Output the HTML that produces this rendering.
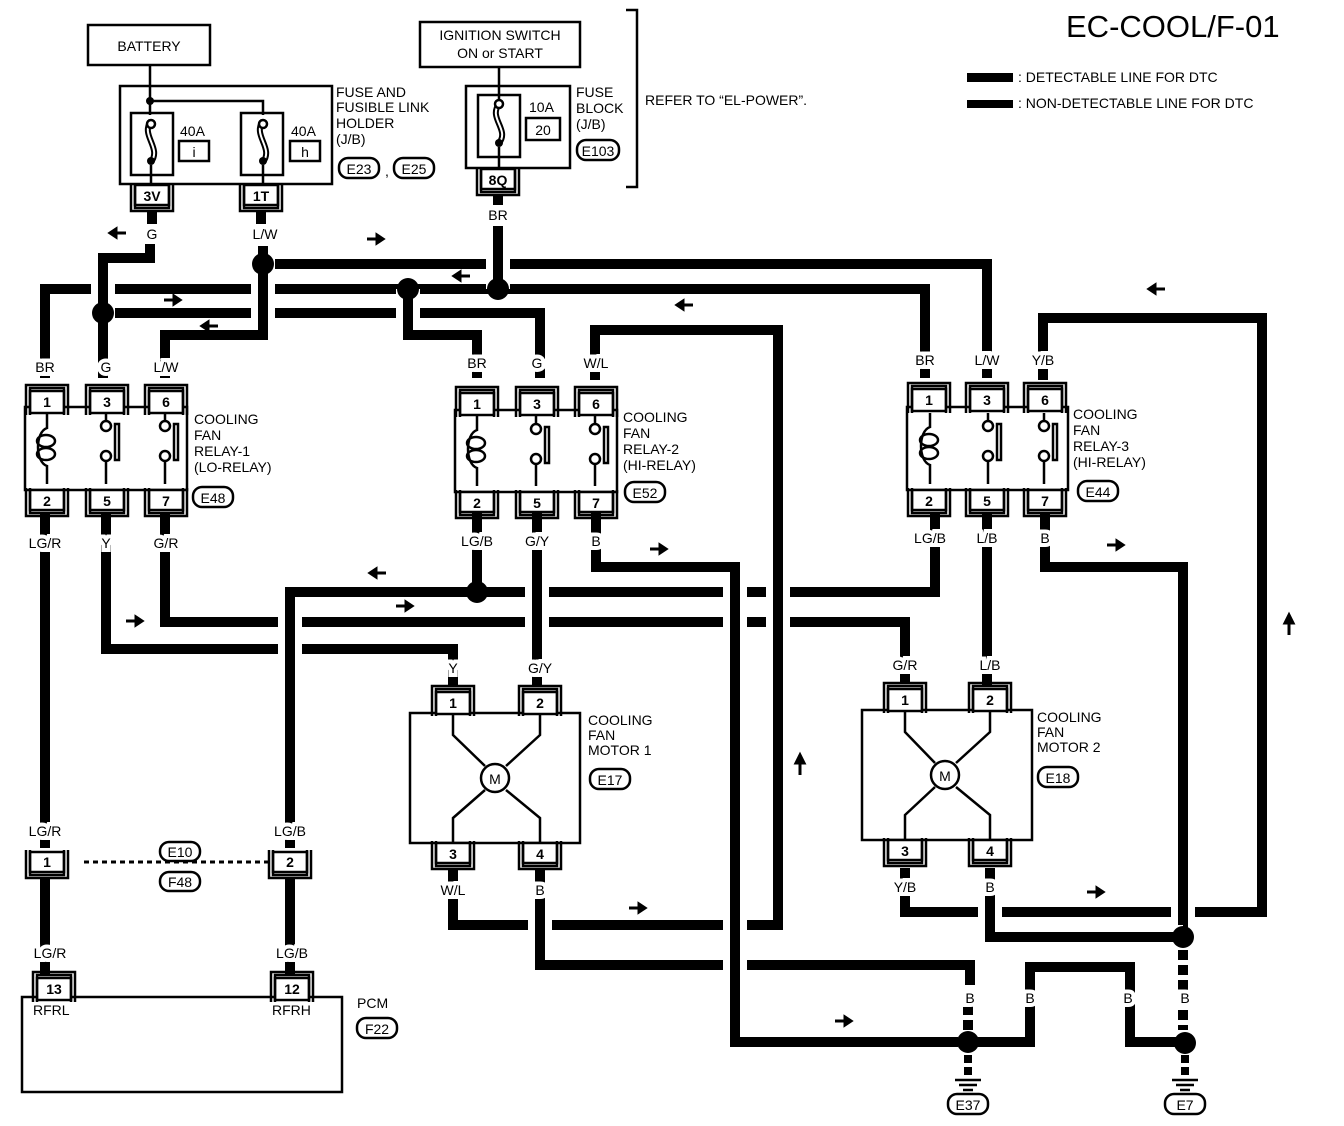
<!DOCTYPE html>
<html><head><meta charset="utf-8"><style>
html,body{margin:0;padding:0;background:#fff;}
svg{display:block;}
text{font-family:"Liberation Sans",sans-serif;fill:#000;}
.w{fill:none;stroke:#000;stroke-width:10;stroke-linejoin:miter;}
.c{fill:none;stroke:#fff;stroke-width:24;}
.t{fill:none;stroke:#000;stroke-width:2.5;}
.l{font-size:14px;text-anchor:middle;stroke:#fff;stroke-width:8px;paint-order:stroke;}
.s{font-size:14px;}
.p{font-size:14px;text-anchor:middle;font-weight:bold;}
.o{fill:#fff;stroke:#000;stroke-width:2.5;}
</style></head><body>
<svg width="1344" height="1126" viewBox="0 0 1344 1126" xmlns="http://www.w3.org/2000/svg">
<defs>
<g id="pt"><rect x="-17" y="0" width="34" height="22" fill="#fff" stroke="#000" stroke-width="2.5"/><path d="M-21 24 V-6 H21 V24 M-17 24 V-3 H17 V24" fill="none" stroke="#000" stroke-width="2.5"/></g>
<g id="pb"><rect x="-17" y="0" width="34" height="20" fill="#fff" stroke="#000" stroke-width="2.5"/><path d="M-21 -2 V26 H21 V-2 M-17 -2 V23 H17 V-2" fill="none" stroke="#000" stroke-width="2.5"/></g>
<g id="ar"><path d="M-8 0 H4 M2 -4 L8 0 L2 4 Z" stroke="#000" stroke-width="3" fill="#000"/></g>
<g id="al"><path d="M8 0 H-4 M-2 -4 L-8 0 L-2 4 Z" stroke="#000" stroke-width="3" fill="#000"/></g>
<g id="au"><path d="M0 10 V-4 M-4 -2 L0 -10 L4 -2 Z" stroke="#000" stroke-width="3" fill="#000"/></g>
</defs>

<!-- Title and legend -->
<text x="1066" y="37" style="font-size:31px">EC-COOL/F-01</text>
<rect x="967" y="73" width="46" height="9" fill="#000"/>
<text x="1018" y="82" class="s">: DETECTABLE LINE FOR DTC</text>
<rect x="967" y="100" width="46" height="8" fill="#000"/>
<text x="1018" y="108" class="s">: NON-DETECTABLE LINE FOR DTC</text>

<!-- Battery / fuse holder -->
<rect x="88" y="25" width="122" height="40" class="t" fill="none"/>
<text x="149" y="51" class="s" text-anchor="middle">BATTERY</text>
<rect x="120" y="86" width="212" height="98" class="t"/>
<path d="M150 65 V115 M150 101 H263 V115" class="t"/>
<circle cx="150" cy="101" r="4"/>
<rect x="131" y="113" width="42" height="62" class="t"/>
<rect x="241" y="113" width="42" height="62" class="t"/>
<path d="M151 121 C140 135 162 148 151 162 M263 121 C252 135 274 148 263 162" fill="none" stroke="#000" stroke-width="6"/>
<path d="M151 121 C140 135 162 148 151 162 M263 121 C252 135 274 148 263 162" fill="none" stroke="#fff" stroke-width="2"/>
<circle cx="151" cy="124" r="4" class="o"/><circle cx="151" cy="161" r="4"/>
<circle cx="263" cy="124" r="4" class="o"/><circle cx="263" cy="161" r="4"/>
<path d="M151 165 V184 M263 165 V184" class="t"/>
<text x="180" y="136" class="s">40A</text><rect x="179" y="141" width="30" height="20" class="t"/><text x="194" y="157" class="s" text-anchor="middle">i</text>
<text x="291" y="136" class="s">40A</text><rect x="290" y="141" width="30" height="20" class="t"/><text x="305" y="157" class="s" text-anchor="middle">h</text>
<text x="336" y="97" class="s">FUSE AND</text>
<text x="336" y="112" class="s">FUSIBLE LINK</text>
<text x="336" y="128" class="s">HOLDER</text>
<text x="336" y="144" class="s">(J/B)</text>
<rect x="339" y="158" width="40" height="20" rx="9" class="o"/><text x="359" y="174" class="s" text-anchor="middle">E23</text>
<text x="385" y="176" class="s">,</text>
<rect x="394" y="158" width="40" height="20" rx="9" class="o"/><text x="414" y="174" class="s" text-anchor="middle">E25</text>
<use href="#pb" x="152" y="185"/><text x="152" y="201" class="p">3V</text>
<use href="#pb" x="261" y="185"/><text x="261" y="201" class="p">1T</text>

<!-- Ignition / fuse block -->
<rect x="420" y="22" width="160" height="45" class="t"/>
<text x="500" y="40" class="s" text-anchor="middle">IGNITION SWITCH</text>
<text x="500" y="58" class="s" text-anchor="middle">ON or START</text>
<rect x="466" y="86" width="104" height="82" class="t"/>
<rect x="478" y="95" width="42" height="62" class="t"/>
<path d="M499 67 V104" class="t"/>
<path d="M499 104 C488 118 510 130 499 143" fill="none" stroke="#000" stroke-width="6"/>
<path d="M499 104 C488 118 510 130 499 143" fill="none" stroke="#fff" stroke-width="2"/>
<circle cx="499" cy="104" r="4" class="o"/><circle cx="499" cy="143" r="4"/>
<path d="M499 147 V168" class="t"/>
<text x="529" y="112" class="s">10A</text><rect x="526" y="118" width="34" height="22" class="t"/><text x="543" y="135" class="s" text-anchor="middle">20</text>
<text x="576" y="97" class="s">FUSE</text><text x="576" y="113" class="s">BLOCK</text><text x="576" y="129" class="s">(J/B)</text>
<rect x="577" y="140" width="42" height="20" rx="9" class="o"/><text x="598" y="156" class="s" text-anchor="middle">E103</text>
<use href="#pb" x="498" y="169"/><text x="498" y="185" class="p">8Q</text>
<path d="M626 10 H637 V187 H626" class="t"/>
<text x="645" y="105" class="s">REFER TO “EL-POWER”.</text>

<!-- ====== WIRES ====== -->
<path class="w" d="M152 210 V224"/><path class="w" d="M261 210 V224"/><path class="w" d="M498 195 V205"/>
<path class="c" d="M498 289 H45 V378"/><path class="w" d="M498 289 H45 V378"/>
<path class="c" d="M103 313 H540 V378"/><path class="w" d="M103 313 H540 V378"/>
<path class="c" d="M150 246 V258 H103 V378"/><path class="w" d="M150 244 V258 H103 V378"/>
<path class="c" d="M498 289 H925 V378"/><path class="w" d="M498 289 H925 V378"/>
<path class="c" d="M263 264 H987 V378"/><path class="w" d="M263 264 H987 V378"/>
<path class="c" d="M498 226 V289"/><path class="w" d="M498 226 V289"/>
<path class="c" d="M263 246 V335 H165 V378"/><path class="w" d="M263 246 V335 H165 V378"/>
<path class="c" d="M408 289 V335 H477 V378"/><path class="w" d="M408 289 V335 H477 V378"/>
<path class="w" d="M45 512 V848"/><path class="w" d="M45 877 V975"/>
<path class="c" d="M106 512 V649 H453 V686"/><path class="w" d="M106 512 V649 H453 V686"/>
<path class="c" d="M165 512 V622 H905 V684"/><path class="w" d="M165 512 V622 H905 V684"/>
<path class="c" d="M935 512 V592 H290 V848"/><path class="w" d="M935 512 V592 H290 V848"/>
<path class="w" d="M477 512 V592"/>
<path class="w" d="M290 877 V975"/>
<path class="c" d="M537 512 V686"/><path class="w" d="M537 512 V686"/>
<path class="c" d="M595 380 V330 H778 V925 H453 V868"/><path class="w" d="M595 380 V330 H778 V925 H453 V868"/>
<path class="c" d="M1043 380 V318 H1262 V912 H905 V868"/><path class="w" d="M1043 380 V318 H1262 V912 H905 V868"/>
<path class="c" d="M540 868 V965 H970 V985"/><path class="w" d="M540 868 V965 H970 V985"/>
<path class="c" d="M596 512 V567 H735 V1042 H958"/><path class="w" d="M596 512 V567 H735 V1042 H958"/>
<path class="c" d="M987 512 V686"/><path class="w" d="M987 512 V686"/>
<path class="c" d="M1045 512 V567 H1183 V937"/><path class="w" d="M1045 512 V567 H1183 V937"/>
<path class="c" d="M990 868 V937 H1183"/><path class="w" d="M990 868 V937 H1183"/>
<path class="w" d="M968 1042 H1030 V967 H1130 V1042 H1183"/>
<path d="M968 990 V1030 M1183 950 V1030" fill="none" stroke="#000" stroke-width="10" stroke-dasharray="10 5"/>
<path d="M968 1055 V1078 M1185 1055 V1078" fill="none" stroke="#000" stroke-width="8" stroke-dasharray="8 4"/>
<path d="M955 1080 H981 M959 1085 H977 M963 1090 H973 M1172 1080 H1198 M1176 1085 H1194 M1180 1090 H1190" class="t"/>
<path d="M84 862 H270" fill="none" stroke="#000" stroke-width="3" stroke-dasharray="5 4"/>

<circle cx="263" cy="264" r="11"/><circle cx="103" cy="313" r="11"/>
<circle cx="408" cy="289" r="11"/><circle cx="498" cy="289" r="11"/>
<circle cx="477" cy="592" r="11"/><circle cx="1183" cy="937" r="11"/>
<circle cx="968" cy="1042" r="11"/><circle cx="1185" cy="1043" r="11"/>

<text x="152" y="239" class="l">G</text><text x="265" y="239" class="l">L/W</text><text x="498" y="220" class="l">BR</text>
<text x="45" y="372" class="l">BR</text><text x="106" y="372" class="l">G</text><text x="166" y="372" class="l">L/W</text>
<text x="477" y="368" class="l">BR</text><text x="537" y="368" class="l">G</text><text x="596" y="368" class="l">W/L</text>
<text x="925" y="365" class="l">BR</text><text x="987" y="365" class="l">L/W</text><text x="1043" y="365" class="l">Y/B</text>
<text x="45" y="548" class="l">LG/R</text><text x="106" y="548" class="l">Y</text><text x="166" y="548" class="l">G/R</text>
<text x="477" y="546" class="l">LG/B</text><text x="537" y="546" class="l">G/Y</text><text x="596" y="546" class="l">B</text>
<text x="930" y="543" class="l">LG/B</text><text x="987" y="543" class="l">L/B</text><text x="1045" y="543" class="l">B</text>
<text x="453" y="673" class="l">Y</text><text x="540" y="673" class="l">G/Y</text>
<text x="905" y="670" class="l">G/R</text><text x="990" y="670" class="l">L/B</text>
<text x="453" y="895" class="l">W/L</text><text x="540" y="895" class="l">B</text>
<text x="905" y="892" class="l">Y/B</text><text x="990" y="892" class="l">B</text>
<text x="45" y="836" class="l">LG/R</text><text x="290" y="836" class="l">LG/B</text>
<text x="50" y="958" class="l">LG/R</text><text x="292" y="958" class="l">LG/B</text>
<text x="970" y="1003" class="l">B</text><text x="1030" y="1003" class="l">B</text><text x="1128" y="1003" class="l">B</text><text x="1185" y="1003" class="l">B</text>

<use href="#al" x="118" y="233"/><use href="#ar" x="375" y="239"/><use href="#ar" x="172" y="300"/>
<use href="#al" x="210" y="326"/><use href="#al" x="462" y="276"/><use href="#al" x="685" y="305"/>
<use href="#al" x="1157" y="289"/><use href="#ar" x="658" y="549"/><use href="#ar" x="1115" y="545"/>
<use href="#al" x="378" y="573"/><use href="#ar" x="404" y="606"/><use href="#ar" x="134" y="621"/>
<use href="#au" x="800" y="765"/><use href="#au" x="1289" y="625"/><use href="#ar" x="637" y="908"/>
<use href="#ar" x="1095" y="892"/><use href="#ar" x="843" y="1021"/>

<!-- Relay 1 -->
<rect x="25" y="407" width="162" height="83" class="o"/>
<use href="#pt" x="47" y="391"/><text x="47" y="407" class="p">1</text>
<use href="#pt" x="107" y="391"/><text x="107" y="407" class="p">3</text>
<use href="#pt" x="166" y="391"/><text x="166" y="407" class="p">6</text>
<use href="#pb" x="47" y="490"/><text x="47" y="506" class="p">2</text>
<use href="#pb" x="107" y="490"/><text x="107" y="506" class="p">5</text>
<use href="#pb" x="166" y="490"/><text x="166" y="506" class="p">7</text>
<g class="t"><path d="M47 413 V428 C35 432 35 462 47 466 V484"/><ellipse cx="46" cy="441" rx="9" ry="6"/><ellipse cx="46" cy="454" rx="9" ry="6"/>
<path d="M106 413 V421 M106 461 V484 M165 413 V421 M165 461 V484"/><circle cx="106" cy="426" r="5"/><circle cx="106" cy="456" r="5"/><circle cx="165" cy="426" r="5"/><circle cx="165" cy="456" r="5"/>
<rect x="115" y="424" width="4" height="36"/><rect x="174" y="424" width="4" height="36"/></g>
<text x="194" y="424" class="s">COOLING</text><text x="194" y="440" class="s">FAN</text><text x="194" y="456" class="s">RELAY-1</text><text x="194" y="472" class="s">(LO-RELAY)</text>
<rect x="193" y="487" width="40" height="20" rx="9" class="o"/><text x="213" y="503" class="s" text-anchor="middle">E48</text>

<!-- Relay 2 -->
<rect x="455" y="410" width="162" height="82" class="o"/>
<use href="#pt" x="477" y="393"/><text x="477" y="409" class="p">1</text>
<use href="#pt" x="537" y="393"/><text x="537" y="409" class="p">3</text>
<use href="#pt" x="596" y="393"/><text x="596" y="409" class="p">6</text>
<use href="#pb" x="477" y="492"/><text x="477" y="508" class="p">2</text>
<use href="#pb" x="537" y="492"/><text x="537" y="508" class="p">5</text>
<use href="#pb" x="596" y="492"/><text x="596" y="508" class="p">7</text>
<g class="t"><path d="M477 416 V430 C465 434 465 464 477 468 V486"/><ellipse cx="476" cy="443" rx="9" ry="6"/><ellipse cx="476" cy="456" rx="9" ry="6"/>
<path d="M536 416 V424 M536 464 V486 M595 416 V424 M595 464 V486"/><circle cx="536" cy="429" r="5"/><circle cx="536" cy="459" r="5"/><circle cx="595" cy="429" r="5"/><circle cx="595" cy="459" r="5"/>
<rect x="545" y="427" width="4" height="36"/><rect x="604" y="427" width="4" height="36"/></g>
<text x="623" y="422" class="s">COOLING</text><text x="623" y="438" class="s">FAN</text><text x="623" y="454" class="s">RELAY-2</text><text x="623" y="470" class="s">(HI-RELAY)</text>
<rect x="625" y="482" width="40" height="20" rx="9" class="o"/><text x="645" y="498" class="s" text-anchor="middle">E52</text>

<!-- Relay 3 -->
<rect x="907" y="407" width="161" height="83" class="o"/>
<use href="#pt" x="929" y="389"/><text x="929" y="405" class="p">1</text>
<use href="#pt" x="987" y="389"/><text x="987" y="405" class="p">3</text>
<use href="#pt" x="1045" y="389"/><text x="1045" y="405" class="p">6</text>
<use href="#pb" x="929" y="490"/><text x="929" y="506" class="p">2</text>
<use href="#pb" x="987" y="490"/><text x="987" y="506" class="p">5</text>
<use href="#pb" x="1045" y="490"/><text x="1045" y="506" class="p">7</text>
<g class="t"><path d="M930 413 V427 C918 431 918 461 930 465 V484"/><ellipse cx="929" cy="440" rx="9" ry="6"/><ellipse cx="929" cy="453" rx="9" ry="6"/>
<path d="M988 413 V421 M988 461 V484 M1044 413 V421 M1044 461 V484"/><circle cx="988" cy="426" r="5"/><circle cx="988" cy="456" r="5"/><circle cx="1044" cy="426" r="5"/><circle cx="1044" cy="456" r="5"/>
<rect x="997" y="424" width="4" height="36"/><rect x="1053" y="424" width="4" height="36"/></g>
<text x="1073" y="419" class="s">COOLING</text><text x="1073" y="435" class="s">FAN</text><text x="1073" y="451" class="s">RELAY-3</text><text x="1073" y="467" class="s">(HI-RELAY)</text>
<rect x="1078" y="481" width="40" height="20" rx="9" class="o"/><text x="1098" y="497" class="s" text-anchor="middle">E44</text>

<!-- Motor 1 -->
<rect x="410" y="713" width="170" height="130" class="o"/>
<use href="#pt" x="453" y="692"/><text x="453" y="708" class="p">1</text>
<use href="#pt" x="540" y="692"/><text x="540" y="708" class="p">2</text>
<use href="#pb" x="453" y="843"/><text x="453" y="859" class="p">3</text>
<use href="#pb" x="540" y="843"/><text x="540" y="859" class="p">4</text>
<g class="t"><path d="M453 713 V735 L485 766 M540 713 V735 L506 766 M485 790 L453 818 V843 M506 790 L540 818 V843"/>
<circle cx="495" cy="778" r="14" fill="#fff"/></g>
<text x="495" y="784" class="s" text-anchor="middle">M</text>
<text x="588" y="725" class="s">COOLING</text><text x="588" y="740" class="s">FAN</text><text x="588" y="755" class="s">MOTOR 1</text>
<rect x="590" y="769" width="40" height="20" rx="9" class="o"/><text x="610" y="785" class="s" text-anchor="middle">E17</text>

<!-- Motor 2 -->
<rect x="862" y="710" width="170" height="130" class="o"/>
<use href="#pt" x="905" y="689"/><text x="905" y="705" class="p">1</text>
<use href="#pt" x="990" y="689"/><text x="990" y="705" class="p">2</text>
<use href="#pb" x="905" y="840"/><text x="905" y="856" class="p">3</text>
<use href="#pb" x="990" y="840"/><text x="990" y="856" class="p">4</text>
<g class="t"><path d="M905 710 V732 L935 763 M990 710 V732 L956 763 M935 787 L905 815 V840 M956 787 L990 815 V840"/>
<circle cx="945" cy="775" r="14" fill="#fff"/></g>
<text x="945" y="781" class="s" text-anchor="middle">M</text>
<text x="1037" y="722" class="s">COOLING</text><text x="1037" y="737" class="s">FAN</text><text x="1037" y="752" class="s">MOTOR 2</text>
<rect x="1038" y="767" width="40" height="20" rx="9" class="o"/><text x="1058" y="783" class="s" text-anchor="middle">E18</text>

<!-- Connectors E10/F48 -->
<use href="#pb" x="47" y="852"/><text x="47" y="867" class="p">1</text>
<use href="#pb" x="290" y="852"/><text x="290" y="867" class="p">2</text>
<rect x="160" y="842" width="40" height="19" rx="9" class="o"/><text x="180" y="857" class="s" text-anchor="middle">E10</text>
<rect x="160" y="872" width="40" height="19" rx="9" class="o"/><text x="180" y="887" class="s" text-anchor="middle">F48</text>

<!-- PCM -->
<rect x="22" y="997" width="320" height="95" class="o"/>
<use href="#pt" x="54" y="978"/><text x="54" y="994" class="p">13</text>
<use href="#pt" x="292" y="978"/><text x="292" y="994" class="p">12</text>
<text x="33" y="1015" class="s">RFRL</text><text x="272" y="1015" class="s">RFRH</text>
<text x="357" y="1008" class="s">PCM</text>
<rect x="357" y="1018" width="40" height="20" rx="9" class="o"/><text x="377" y="1034" class="s" text-anchor="middle">F22</text>

<!-- grounds -->
<rect x="948" y="1094" width="40" height="20" rx="9" class="o"/><text x="968" y="1110" class="s" text-anchor="middle">E37</text>
<rect x="1165" y="1094" width="40" height="20" rx="9" class="o"/><text x="1185" y="1110" class="s" text-anchor="middle">E7</text>
</svg>
</body></html>
